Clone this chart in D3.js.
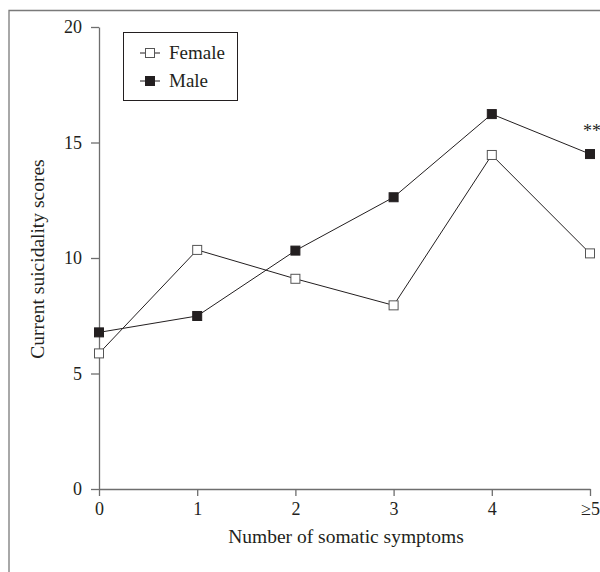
<!DOCTYPE html>
<html>
<head>
<meta charset="utf-8">
<script src="https://cdn.jsdelivr.net/npm/d3@7"></script>
<style>
  body { margin: 0; background: #fff; }
  svg { display: block; font-family: "Liberation Serif", "DejaVu Serif", serif; }
</style>
</head>
<body>
<svg id="chart" width="600" height="572"></svg>
<script>
var categories = ["0", "1", "2", "3", "4", "\u22655"];
var female = [5.87, 10.35, 9.1, 7.95, 14.46, 10.2];
var male = [6.78, 7.49, 10.32, 12.63, 16.23, 14.5];
var yTicks = [0, 5, 10, 15, 20];

var svg = d3.select("#chart");

// frame round the figure (right and bottom edges fall outside the picture)
svg.append("path")
    .attr("d", "M9,600 V10.5 H620")
    .attr("fill", "none")
    .attr("stroke", "#7a7a7a")
    .attr("stroke-width", 1.3);

var x = d3.scalePoint()
    .domain(categories)
    .range([99, 590]);

var y = d3.scaleLinear()
    .domain([0, 20])
    .range([489, 27]);

var yAxis = svg.append("g")
    .attr("transform", "translate(99,0)")
    .call(d3.axisLeft(y).tickValues(yTicks).tickSize(8).tickSizeOuter(0).tickPadding(9));

var xAxis = svg.append("g")
    .attr("transform", "translate(0,489)")
    .call(d3.axisBottom(x).tickSize(7).tickSizeOuter(0).tickPadding(6));

[xAxis, yAxis].forEach(function(g) {
    g.selectAll("path, line").attr("stroke", "#6e6e6e").attr("stroke-width", 1.3);
    g.selectAll("text")
        .attr("fill", "#231f20")
        .style("font-family", "Liberation Serif, DejaVu Serif, serif")
        .style("font-size", "18px");
});

svg.append("text")
    .attr("x", 346)
    .attr("y", 543)
    .attr("text-anchor", "middle")
    .attr("fill", "#231f20")
    .style("font-size", "19.5px")
    .text("Number of somatic symptoms");

svg.append("text")
    .attr("transform", "translate(44,259) rotate(-90)")
    .attr("text-anchor", "middle")
    .attr("fill", "#231f20")
    .style("font-size", "19.5px")
    .text("Current suicidality scores");

var line = d3.line()
    .x(function(d, i) { return x(categories[i]); })
    .y(function(d) { return y(d); });

var series = [
    {name: "Female", values: female, fill: "#ffffff"},
    {name: "Male", values: male, fill: "#231f20"}
];

series.forEach(function(s) {
    svg.append("path")
        .datum(s.values)
        .attr("d", line)
        .attr("fill", "none")
        .attr("stroke", "#231f20")
        .attr("stroke-width", 1);
});

var sq = 9;
series.forEach(function(s) {
    svg.selectAll(".pt-" + s.name)
        .data(s.values)
        .enter()
        .append("rect")
        .attr("class", "pt-" + s.name)
        .attr("x", function(d, i) { return x(categories[i]) - sq / 2; })
        .attr("y", function(d) { return y(d) - sq / 2; })
        .attr("width", sq)
        .attr("height", sq)
        .attr("fill", s.fill)
        .attr("stroke", s.name === "Female" ? "#555" : "#231f20")
        .attr("stroke-width", 1);
});

svg.append("text")
    .attr("x", 583)
    .attr("y", 137)
    .attr("fill", "#231f20")
    .style("font-size", "18px")
    .text("**");

// legend
var legend = svg.append("g");
legend.append("rect")
    .attr("x", 123.5).attr("y", 32.5)
    .attr("width", 114).attr("height", 68)
    .attr("fill", "#fff")
    .attr("stroke", "#231f20")
    .attr("stroke-width", 1);

series.forEach(function(s, i) {
    var cy = 53 + i * 28;
    legend.append("line")
        .attr("x1", 140).attr("x2", 160)
        .attr("y1", cy).attr("y2", cy)
        .attr("stroke", "#231f20");
    legend.append("rect")
        .attr("x", 150 - sq / 2).attr("y", cy - sq / 2)
        .attr("width", sq).attr("height", sq)
        .attr("fill", s.fill)
        .attr("stroke", s.name === "Female" ? "#555" : "#231f20");
    legend.append("text")
        .attr("x", 169).attr("y", cy + 6)
        .attr("fill", "#231f20")
        .style("font-size", "19px")
        .text(s.name);
});
</script>
</body>
</html>
